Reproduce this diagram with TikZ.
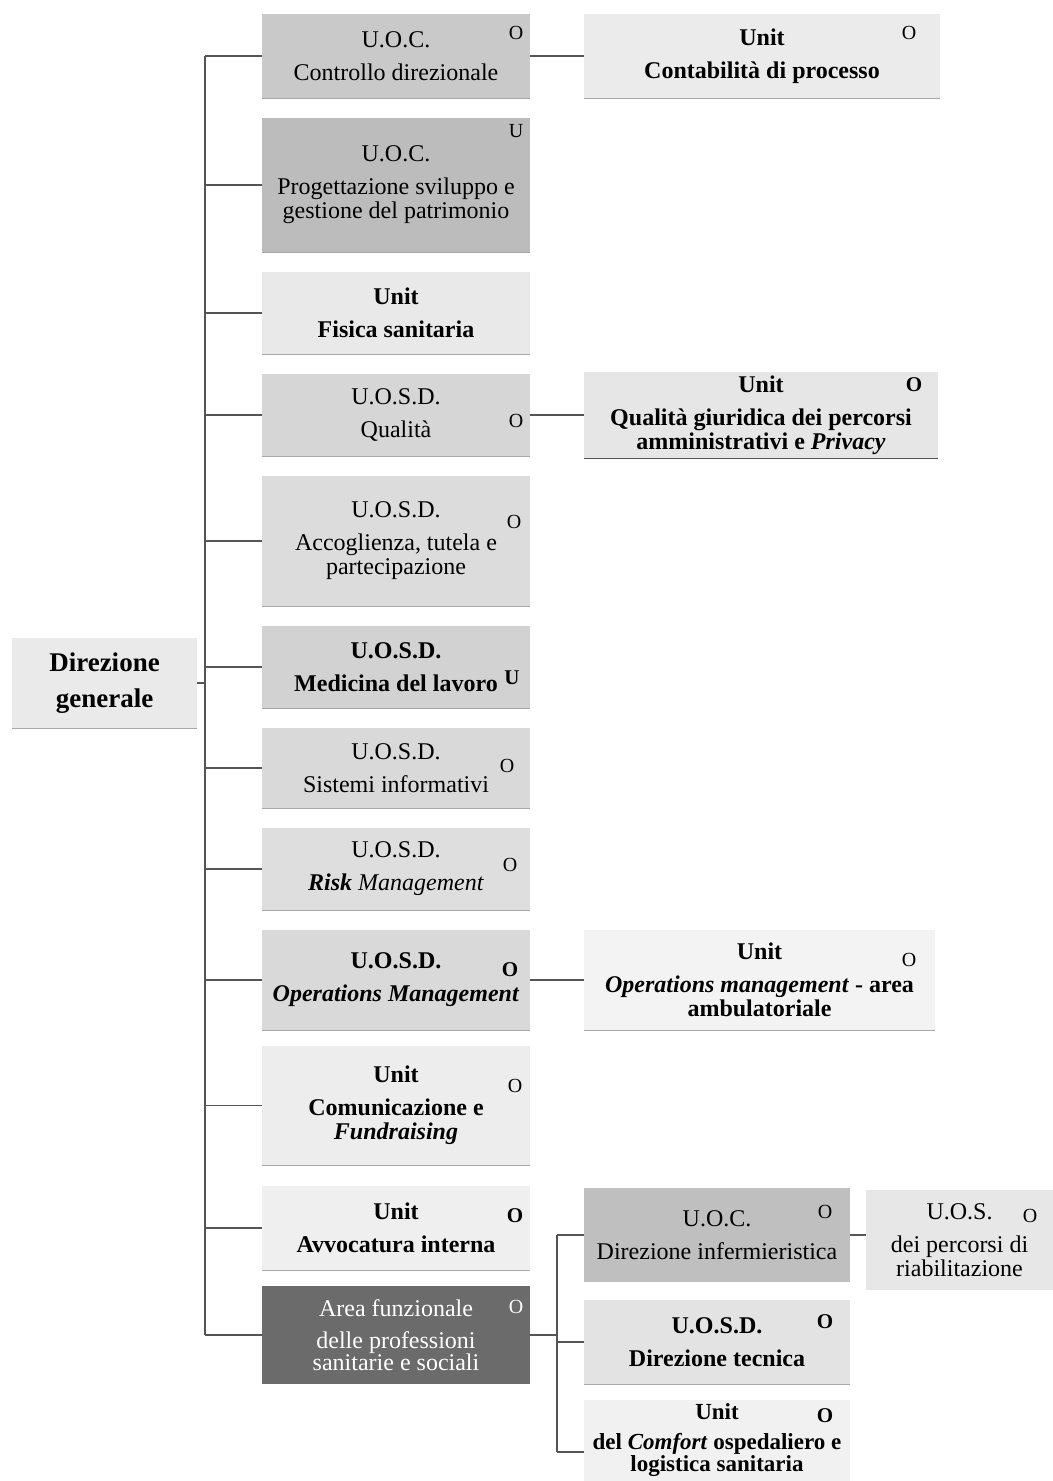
\documentclass[tikz,border=0pt]{standalone}
\usepackage{fontspec}
\setmainfont{Liberation Serif}
\definecolor{c1}{HTML}{C9C9C9}
\definecolor{c2}{HTML}{BCBCBC}
\definecolor{c3}{HTML}{E9E9E9}
\definecolor{c4}{HTML}{D6D6D6}
\definecolor{c5}{HTML}{DCDCDC}
\definecolor{c6}{HTML}{D2D2D2}
\definecolor{c7}{HTML}{D9D9D9}
\definecolor{c8}{HTML}{DEDEDE}
\definecolor{c9}{HTML}{D9D9D9}
\definecolor{c10}{HTML}{EDEDED}
\definecolor{c11}{HTML}{EFEFEF}
\definecolor{c12}{HTML}{6B6B6B}
\definecolor{cdg}{HTML}{EAEAEA}
\definecolor{cr1}{HTML}{EBEBEB}
\definecolor{cr2}{HTML}{E6E6E6}
\definecolor{cr3}{HTML}{F3F3F3}
\definecolor{cr4}{HTML}{BFBFBF}
\definecolor{cr5}{HTML}{E7E7E7}
\definecolor{cr6}{HTML}{E3E3E3}
\definecolor{cr7}{HTML}{F1F1F1}
\definecolor{linegray}{HTML}{555555}
\definecolor{edgegray}{HTML}{A8A8A8}
\begin{document}
\begin{tikzpicture}[x=0.5pt,y=-0.5pt,
  box/.style={rectangle, inner sep=1pt, align=center, text=black,
    font=\fontsize{12}{12}\selectfont},
  bbox/.style={box, font=\fontsize{12}{12}\selectfont\bfseries},
  bw/.style 2 args={minimum width=#1, minimum height=#2},
  flag/.style={inner sep=0pt, font=\fontsize{10}{10}\selectfont},
  bflag/.style={flag, font=\fontsize{10.5}{10.5}\selectfont\bfseries},
  link/.style={draw=linegray, line width=0.6pt},
  edgeline/.style={draw=edgegray, line width=0.8pt}]
\fill[white] (0,0) rectangle (1053,1481);
\useasboundingbox (0,0) rectangle (1053,1481);

% root
\node[bbox, bw={92.5pt}{45pt}, fill=cdg, font=\fontsize{13.5}{13.5}\selectfont\bfseries] (dg) at (104.5,683) {Direzione\\[4.5pt]generale};

% main column
\node[box, bw={134pt}{42pt}, fill=c1] (b1) at (396,56) {U.O.C.\\[4.5pt]Controllo direzionale};
\node[box, bw={134pt}{67pt}, fill=c2] (b2) at (396,185) {U.O.C.\\[4.5pt]Progettazione sviluppo e\\gestione del patrimonio};
\node[bbox, bw={134pt}{41pt}, fill=c3] (b3) at (396,313) {Unit\\[4.5pt]Fisica sanitaria};
\node[box, bw={134pt}{41pt}, fill=c4] (b4) at (396,415) {U.O.S.D.\\[4.5pt]Qualità};
\node[box, bw={134pt}{65pt}, fill=c5] (b5) at (396,541) {U.O.S.D.\\[4.5pt]Accoglienza, tutela e\\partecipazione};
\node[bbox, bw={134pt}{41pt}, fill=c6] (b6) at (396,667) {U.O.S.D.\\[4.5pt]Medicina del lavoro};
\node[box, bw={134pt}{40pt}, fill=c7] (b7) at (396,768) {U.O.S.D.\\[4.5pt]Sistemi informativi};
\node[box, bw={134pt}{41pt}, fill=c8] (b8) at (396,869) {U.O.S.D.\\[4.5pt]\textbf{\textit{Risk}} \textit{Management}};
\node[bbox, bw={134pt}{50pt}, fill=c9] (b9) at (396,980) {U.O.S.D.\\[4.5pt]\textit{Operations Management}};
\node[bbox, bw={134pt}{59.5pt}, fill=c10] (b10) at (396,1105.5) {Unit\\[4.5pt]Comunicazione e\\\textit{Fundraising}};
\node[bbox, bw={134pt}{42pt}, fill=c11] (b11) at (396,1228) {Unit\\[4.5pt]Avvocatura interna};
\node[box, bw={134pt}{49pt}, fill=c12, text=white, font=\fontsize{12}{11}\selectfont] (b12) at (396,1335) {Area funzionale\\[5pt]delle professioni\\sanitarie e sociali};

% right column
\node[bbox, bw={178pt}{42pt}, fill=cr1] (r1) at (762,56) {Unit\\[4.5pt]Contabilità di processo};
\node[bbox, bw={177pt}{43pt}, fill=cr2] (r2) at (761,415) {Unit\\[4.5pt]Qualità giuridica dei percorsi\\amministrativi e \textit{Privacy}};
\node[bbox, bw={175.5pt}{50pt}, fill=cr3] (r3) at (759.5,980) {Unit\\[4.5pt]\textit{Operations management} - area\\ambulatoriale};
\node[box, bw={133pt}{47pt}, fill=cr4] (r4) at (717,1235) {U.O.C.\\[4.5pt]Direzione infermieristica};
\node[box, bw={93.5pt}{50pt}, fill=cr5] (r5) at (959.5,1240) {U.O.S.\\[4.5pt]dei percorsi di\\riabilitazione};
\node[bbox, bw={133pt}{42pt}, fill=cr6] (r6) at (717,1342) {U.O.S.D.\\[4.5pt]Direzione tecnica};
\node[bbox, bw={133pt}{40.5pt}, fill=cr7, font=\fontsize{11.5}{11}\selectfont\bfseries] (r7) at (717,1440.5) {Unit\\[4pt]del \textit{Comfort} ospedaliero e\\logistica sanitaria};

% bottom edges
\foreach \n in {b1,b2,b3,b4,b5,b6,b7,b8,b9,b10,b11,r1,r3,r6,dg}
  \draw[edgeline] (\n.south west) -- (\n.south east);
\draw[link] (r2.south west) -- (r2.south east);

% flags
\node[flag] (f1) at (516,33) {O};
\node[flag] (f2) at (516,131) {U};
\node[flag] (f4) at (516,421) {O};
\node[flag] (f5) at (514,522) {O};
\node[bflag] (f6) at (512,678) {U};
\node[flag] (f7) at (507,766) {O};
\node[flag] (f8) at (510,865) {O};
\node[bflag] (f9) at (510,970) {O};
\node[flag] (f10) at (515,1086) {O};
\node[bflag] (f11) at (515,1216) {O};
\node[flag, text=white] (f12) at (516,1307) {O};
\node[flag] (g1) at (909,33) {O};
\node[bflag] (g2) at (914,385) {O};
\node[flag] (g3) at (909,960) {O};
\node[flag] (g4) at (825,1212) {O};
\node[flag] (g5) at (1030,1216) {O};
\node[bflag] (g6) at (825,1322) {O};
\node[bflag] (g7) at (825,1416) {O};

% connectors
\coordinate (tt) at (205,56);
\coordinate (tb) at (205,1335);
\draw[link] (tt) -- (tb);
\draw[link] (dg.east) -- (dg.east -| tt);
\foreach \n in {b1,b2,b3,b4,b5,b6,b7,b8,b9,b10,b11,b12}
  \draw[link] (\n.west -| tt) -- (\n.west);
\draw[link] (b1.east) -- (r1.west);
\draw[link] (b4.east) -- (r2.west);
\draw[link] (b9.east) -- (r3.west);
\coordinate (st) at (557,1235);
\coordinate (sb) at (557,1452);
\draw[link] (b12.east) -- (b12.east -| st);
\draw[link] (st) -- (sb);
\draw[link] (st) -- (r4.west);
\draw[link] (r6.west -| st) -- (r6.west);
\draw[link] (sb) -- (sb -| r7.west);
\draw[link] (r4.east) -- (r4.east -| r5.west);
\end{tikzpicture}
\end{document}
